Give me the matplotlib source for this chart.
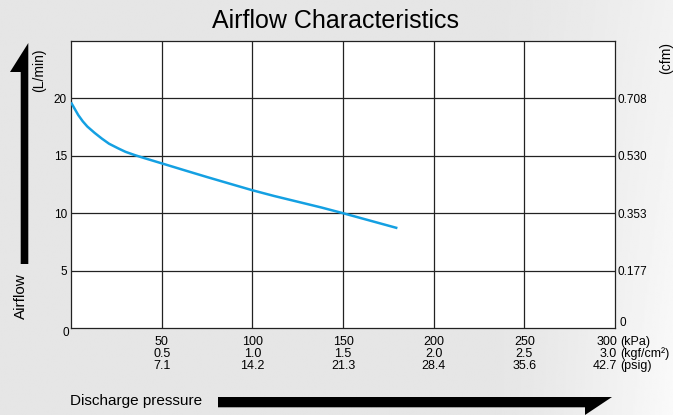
import numpy as np
import matplotlib
matplotlib.use("Agg")
import matplotlib.pyplot as plt
from matplotlib.patches import Polygon
from matplotlib.transforms import blended_transform_factory

plt.rcParams['font.family'] = ['Liberation Sans', 'DejaVu Sans']

# ---- data ----
pressure_kpa = [0, 2, 4, 6.5, 9, 13, 17, 21, 26, 30, 35, 40, 44, 53, 63, 75, 88, 100, 112, 125, 138, 150, 165, 180]
airflow_lpm = [19.65, 19.1, 18.55, 18.0, 17.55, 17.0, 16.5, 16.05, 15.65, 15.35, 15.07, 14.82, 14.63, 14.2,
               13.72, 13.15, 12.55, 12.0, 11.5, 11.0, 10.5, 10.0, 9.35, 8.7]

x_ticks_kpa = [50, 100, 150, 200, 250, 300]
x_labels_kgf = ["0.5", "1.0", "1.5", "2.0", "2.5", "3.0"]
x_labels_psig = ["7.1", "14.2", "21.3", "28.4", "35.6", "42.7"]
y_ticks_lpm = [5, 10, 15, 20]
y_labels_cfm = ["0.177", "0.353", "0.530", "0.708"]

W, H = 673, 415
fig = plt.figure(figsize=(W / 100, H / 100), dpi=100)

# background gradient
bg = fig.add_axes([0, 0, 1, 1], zorder=-10)
xs = np.linspace(0, 1, 400)
ys = np.linspace(0, 1, 200)
X, Y = np.meshgrid(xs, ys)
val = 0.9 + 0.08 * np.clip((X - 0.72) / 0.28, 0, 1) ** 1.5 * (0.6 + 0.4 * Y)
bg.imshow(val, cmap='gray', vmin=0, vmax=1, extent=[0, 1, 0, 1], aspect='auto', origin='upper')
bg.set_axis_off()

def px(x, y):
    return x / W, 1 - y / H

L, R, T, B = 71, 615, 41, 328
ax = fig.add_axes([L / W, 1 - B / H, (R - L) / W, (B - T) / H])
ax.set_facecolor('white')
ax.set_xlim(0, 300)
ax.set_ylim(0, 25)

for xv in x_ticks_kpa[:-1]:
    ax.axvline(xv, color='#222222', lw=0.9, zorder=1)
for yv in y_ticks_lpm:
    ax.axhline(yv, color='#222222', lw=0.9, zorder=1)
for s in ax.spines.values():
    s.set_color('#222222')
    s.set_linewidth(0.9)

ax.plot(pressure_kpa, airflow_lpm, color='#14a0e2', lw=1.8, zorder=3,
        solid_capstyle='butt', solid_joinstyle='round')

ax.set_xticks([])
ax.set_yticks(y_ticks_lpm)
ax.set_yticklabels([str(v) for v in y_ticks_lpm], fontsize=8.5)
ax.tick_params(axis='y', length=0, pad=3)

ax2 = ax.twinx()
ax2.set_ylim(0, 25)
ax2.set_yticks(y_ticks_lpm)
ax2.set_yticklabels(y_labels_cfm, fontsize=8.5)
ax2.tick_params(axis='y', length=0, pad=2)
for s in ax2.spines.values():
    s.set_visible(False)

# zero labels
fig.text(*px(66, 333), "0", fontsize=8.5, ha='center', va='center')
fig.text(*px(620, 323), "0", fontsize=8.5, ha='left', va='center')

# bottom labels
tr = blended_transform_factory(ax.transData, fig.transFigure)
rows = [[str(v) for v in x_ticks_kpa], x_labels_kgf, x_labels_psig]
row_y = [342, 354, 366]
for ri, labels in enumerate(rows):
    for xv, lab in zip(x_ticks_kpa, labels):
        if xv == 300:
            fig.text(617 / W, 1 - row_y[ri] / H, lab, fontsize=9, ha='right', va='center')
        else:
            ax.text(xv, 1 - row_y[ri] / H, lab, transform=tr, fontsize=9, ha='center', va='center')
for ri, u in enumerate(["(kPa)", "(kgf/cm²)", "(psig)"]):
    fig.text(620 / W, 1 - row_y[ri] / H, u, fontsize=9, ha='left', va='center')

# titles / labels
fig.text(*px(335, 21), "Airflow Characteristics", fontsize=18, ha='center', va='center')
fig.text(*px(39, 70), "(L/min)", fontsize=10, rotation=90, ha='center', va='center')
fig.text(*px(666, 58), "(cfm)", fontsize=10, rotation=90, ha='center', va='center')
fig.text(*px(21, 296), "Airflow", fontsize=11, rotation=90, ha='center', va='center')
fig.text(*px(70, 401), "Discharge pressure", fontsize=11, ha='left', va='center')

# arrows
va = [(28.3, 264), (28.3, 43), (10, 72), (20.7, 72), (20.7, 264)]
fig.patches.append(Polygon([px(*p) for p in va], closed=True, transform=fig.transFigure,
                           facecolor='black', edgecolor='none'))
ha_ = [(218, 397), (612, 397), (585, 415), (585, 420), (585, 407.3), (218, 407.3)]
fig.patches.append(Polygon([px(*p) for p in ha_], closed=True, transform=fig.transFigure,
                           facecolor='black', edgecolor='none'))

fig.savefig("out.png", dpi=100)
